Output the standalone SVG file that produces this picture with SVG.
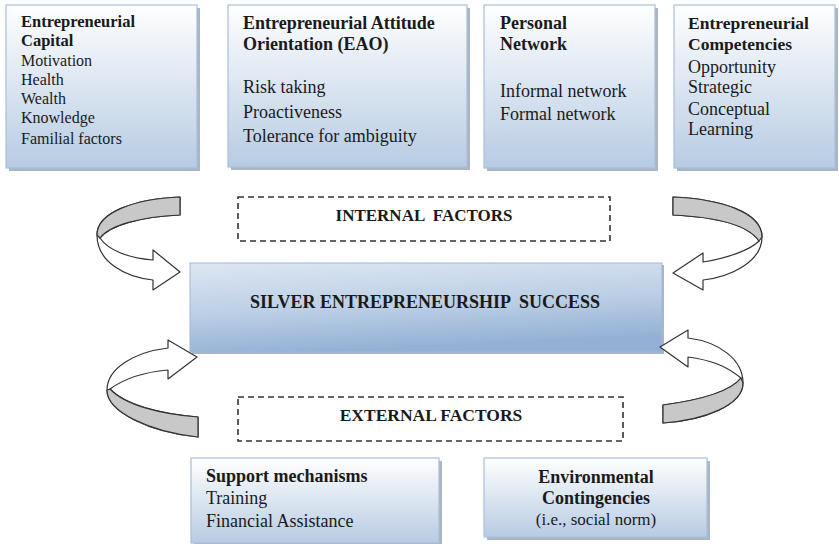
<svg xmlns="http://www.w3.org/2000/svg" width="839" height="544" viewBox="0 0 839 544">
<defs>
<linearGradient id="boxg" x1="0" y1="0" x2="0" y2="1">
<stop offset="0" stop-color="#ffffff"/>
<stop offset="1" stop-color="#b7cbe3"/>
</linearGradient>
<linearGradient id="cg" x1="0" y1="0" x2="0.25" y2="1">
<stop offset="0" stop-color="#dde6f2"/>
<stop offset="0.55" stop-color="#bccfe6"/>
<stop offset="1" stop-color="#94b1d5"/>
</linearGradient>
</defs>
<style>
.box{fill:url(#boxg);stroke:#a9bfda;stroke-width:1.2}
.sh{fill:#8f9db0;opacity:0.75}
.dash{fill:none;stroke:#333;stroke-width:1.6;stroke-dasharray:6,4}
.t{font-family:"Liberation Serif","Times New Roman",serif;fill:#1a1a1a}
.b{font-weight:bold}
.arw{fill:#fff;stroke:#333;stroke-width:1.2;stroke-linejoin:round}
.gr{fill:#c8c8c8;stroke:#333;stroke-width:1.2;stroke-linejoin:round}
</style>

<g id="capital">
<rect class="sh" x="9" y="8" width="191" height="163"/>
<rect class="box" x="6" y="5" width="191" height="163"/>
<text class="t b" x="21" y="27" font-size="16.5">Entrepreneurial</text>
<text class="t b" x="21" y="46" font-size="16.5">Capital</text>
<text class="t" x="21" y="66" font-size="16">Motivation</text>
<text class="t" x="21" y="85" font-size="16">Health</text>
<text class="t" x="21" y="104" font-size="16">Wealth</text>
<text class="t" x="21" y="123" font-size="16">Knowledge</text>
<text class="t" x="21" y="144" font-size="16">Familial factors</text>
</g>

<g id="eao">
<rect class="sh" x="231" y="8" width="239" height="162"/>
<rect class="box" x="228" y="5" width="239" height="162"/>
<text class="t b" x="243" y="29" font-size="18">Entrepreneurial Attitude</text>
<text class="t b" x="243" y="50" font-size="18">Orientation (EAO)</text>
<text class="t" x="243" y="93" font-size="18">Risk taking</text>
<text class="t" x="243" y="118" font-size="18">Proactiveness</text>
<text class="t" x="243" y="142" font-size="18">Tolerance for ambiguity</text>
</g>

<g id="network">
<rect class="sh" x="487" y="8" width="171" height="163"/>
<rect class="box" x="484" y="5" width="171" height="163"/>
<text class="t b" x="500" y="29" font-size="18">Personal</text>
<text class="t b" x="500" y="50" font-size="18">Network</text>
<text class="t" x="500" y="97" font-size="18">Informal network</text>
<text class="t" x="500" y="120" font-size="18">Formal network</text>
</g>

<g id="competencies">
<rect class="sh" x="677" y="8" width="161" height="163"/>
<rect class="box" x="674" y="5" width="161" height="163"/>
<text class="t b" x="688" y="29" font-size="17.5">Entrepreneurial</text>
<text class="t b" x="688" y="50" font-size="17.5">Competencies</text>
<text class="t" x="688" y="73" font-size="18">Opportunity</text>
<text class="t" x="688" y="93" font-size="18">Strategic</text>
<text class="t" x="688" y="115" font-size="18">Conceptual</text>
<text class="t" x="688" y="135" font-size="18">Learning</text>
</g>

<g id="internal">
<rect class="dash" x="238" y="197" width="372" height="44"/>
<text class="t b" x="424" y="221" font-size="17" text-anchor="middle" xml:space="preserve">INTERNAL  FACTORS</text>
</g>

<g id="success">
<rect class="sh" x="192" y="265" width="472" height="89"/>
<rect x="190" y="263" width="472" height="89" fill="url(#cg)" stroke="#9fb8d6" stroke-width="1"/>
<text class="t b" x="425" y="308" font-size="18" text-anchor="middle" xml:space="preserve">SILVER ENTREPRENEURSHIP  SUCCESS</text>
</g>

<g id="external">
<rect class="dash" x="238" y="397" width="385" height="44"/>
<text class="t b" x="431" y="421" font-size="17.5" text-anchor="middle">EXTERNAL FACTORS</text>
</g>

<g id="support">
<rect class="sh" x="194" y="461" width="248" height="85"/>
<rect class="box" x="191" y="458" width="248" height="85"/>
<text class="t b" x="206" y="482" font-size="18">Support mechanisms</text>
<text class="t" x="206" y="504" font-size="18">Training</text>
<text class="t" x="206" y="527" font-size="18">Financial Assistance</text>
</g>

<g id="environment">
<rect class="sh" x="487" y="461" width="223" height="79"/>
<rect class="box" x="484" y="458" width="223" height="79"/>
<text class="t b" x="596" y="483" font-size="18" text-anchor="middle">Environmental</text>
<text class="t b" x="596" y="504" font-size="18" text-anchor="middle">Contingencies</text>
<text class="t" x="596" y="525" font-size="17" text-anchor="middle">(i.e., social norm)</text>
</g>

<g id="connectors">
<g id="arrow-tl">
<path class="arw" d="M180,197 C135,199 97,212 97,235 C97,262 125,277 153,280 L153,290 L180,272 L153,250 L153,260 C128,258 108,250 100,238 C110,225 140,217 180,215 Z"/>
<path class="gr" d="M180,197 C135,199 97,212 97,235 L100,238 C110,225 140,217 180,215 Z"/>
</g>
<g id="arrow-tr">
<path class="arw" d="M673,197 C720,199 762,212 762,237 C762,262 730,277 703,280 L703,290 L673,273 L703,253 L703,262 C728,258 750,250 759,241 C748,225 715,217 673,215 Z"/>
<path class="gr" d="M673,197 C720,199 762,212 762,237 L759,241 C748,225 715,217 673,215 Z"/>
</g>
<g id="arrow-bl">
<path class="arw" d="M168,348 C135,352 107,368 107,390 C107,412 150,432 198,437 L198,417 C160,414 125,405 110,389 C125,378 145,372 168,370 L168,379 L197,357 L168,340 Z"/>
<path class="gr" d="M107,390 C107,412 150,432 198,437 L198,417 C160,414 125,405 110,389 Z"/>
</g>
<g id="arrow-br">
<path class="arw" d="M688,338 C720,342 743,360 743,383 C743,405 705,420 663,423 L663,405 C700,400 730,392 741,378 C725,365 710,360 688,357 L688,367 L660,347 L688,330 Z"/>
<path class="gr" d="M743,383 C743,405 705,420 663,423 L663,405 C700,400 730,392 741,378 Z"/>
</g>
</g>
</svg>
